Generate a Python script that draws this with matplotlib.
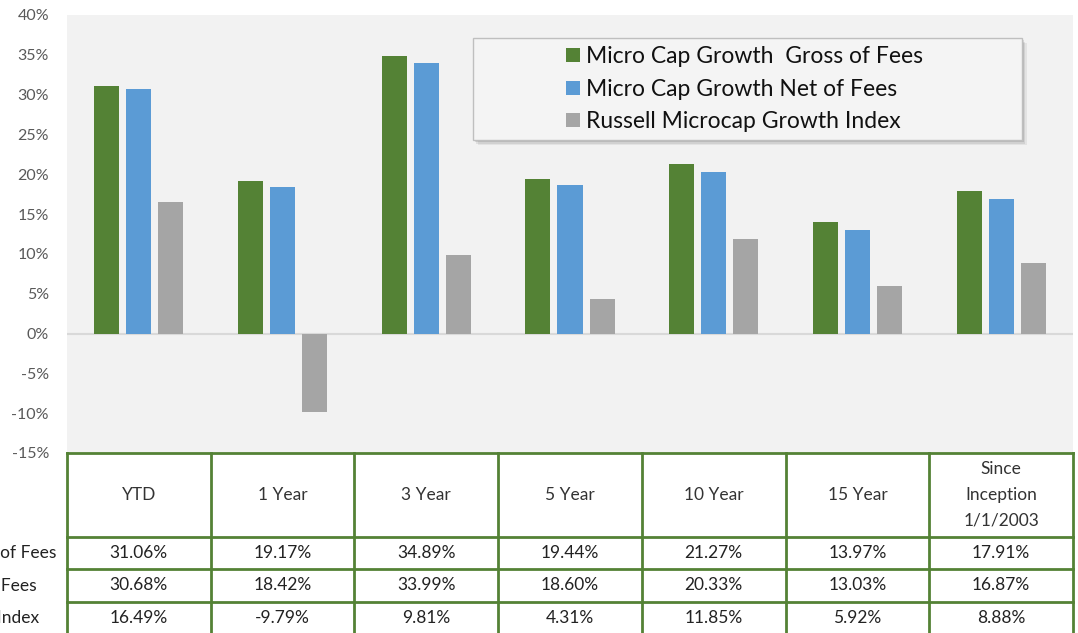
import numpy as np
import matplotlib
matplotlib.use('Agg')
from matplotlib import pyplot as plt
from matplotlib.patches import Rectangle

plt.rcParams['font.family'] = ['Lato', 'DejaVu Sans']

periods = ['YTD', '1 Year', '3 Year', '5 Year', '10 Year', '15 Year', 'Since\nInception\n1/1/2003']
series_names = ['Micro Cap Growth  Gross of Fees', 'Micro Cap Growth Net of Fees',
                'Russell Microcap Growth Index']
gross = [31.06, 19.17, 34.89, 19.44, 21.27, 13.97, 17.91]
net = [30.68, 18.42, 33.99, 18.60, 20.33, 13.03, 16.87]
index = [16.49, -9.79, 9.81, 4.31, 11.85, 5.92, 8.88]
colors = ['#548235', '#5b9bd5', '#a5a5a5']
yticks = [-15, -10, -5, 0, 5, 10, 15, 20, 25, 30, 35, 40]

W, H = 1078, 633
fig = plt.figure(figsize=(W / 100, H / 100), dpi=100)
fig.patch.set_facecolor('white')

# chart area (pixel coords from the reference)
ax = fig.add_axes([67 / W, (H - 453) / H, (1073 - 67) / W, 438 / H])
ax.set_facecolor('#f2f2f2')
x = np.arange(len(periods))
bw = 0.174
step = 0.223
for k, vals in enumerate([gross, net, index]):
    ax.bar(x + (k - 1) * step, vals, bw, color=colors[k], label=series_names[k], zorder=3)
ax.axhline(0, color='#d9d9d9', lw=1.5, zorder=2)
ax.set_xlim(-0.5, len(periods) - 0.5)
ax.set_ylim(-15, 40)
ax.set_yticks(yticks)
ax.set_yticklabels([f'{t}%' for t in yticks])
ax.tick_params(axis='y', length=0, pad=13, labelsize=11.5, labelcolor='#595959')
ax.set_xticks([])
for s in ax.spines.values():
    s.set_visible(False)

# legend box with a soft shadow
lx0, lx1 = (473 - 67) / 1006, (1022 - 67) / 1006
ly0, ly1 = (453 - 140) / 438, (453 - 38) / 438
for i, a in enumerate([0.10, 0.08, 0.06]):
    ax.add_patch(Rectangle((lx0 + (i + 1) * 0.0015, ly0 - (i + 1) * 0.004), lx1 - lx0, ly1 - ly0,
                           transform=ax.transAxes, facecolor='black', alpha=a, lw=0, zorder=4))
ax.add_patch(Rectangle((lx0, ly0), lx1 - lx0, ly1 - ly0, transform=ax.transAxes,
                       facecolor='#f4f4f4', edgecolor='#bfbfbf', lw=1, zorder=5))
leg = ax.legend(loc='upper left', bbox_to_anchor=((555 - 67) / 1006, (453 - 35) / 438),
                frameon=False, fontsize=16.5, handlelength=0.57, handleheight=0.57,
                handletextpad=0.3, labelspacing=0.5, borderpad=0)
leg.set_zorder(6)
for t in leg.get_texts():
    t.set_color('#111111')

# data table below the chart
tb = fig.add_axes([67 / W, 0, (1073 - 67) / W, 180 / H])
tb.set_xlim(-0.5, len(periods) - 0.5)
tb.set_ylim(0, 180)
tb.axis('off')
green = '#548235'
row_tops = [180, 96, 64, 31]
for yy in row_tops:
    tb.plot([-0.5, len(periods) - 0.5], [yy, yy], color=green, lw=2, clip_on=False)
for xx in np.arange(len(periods) + 1) - 0.5:
    tb.plot([xx, xx], [-5, 180], color=green, lw=2, clip_on=False)
for i, p in enumerate(periods):
    tb.text(i, 138, p, ha='center', va='center', fontsize=12.5, color='#333333',
            linespacing=1.75)

# row labels are left aligned and run off the left edge of the picture
renderer = fig.canvas.get_renderer()
probe = fig.text(0, 0, series_names[0], fontsize=12.5)
w0 = probe.get_window_extent(renderer).width
probe.remove()
left = 56 - w0
for r, vals in enumerate([gross, net, index]):
    yc = (row_tops[r + 1] + (row_tops[r + 2] if r + 2 < len(row_tops) else -1)) / 2
    for i, v in enumerate(vals):
        tb.text(i, yc, f'{v:.2f}%', ha='center', va='center', fontsize=12.5, color='#222222')
    fig.text(left / W, yc / H, series_names[r], ha='left', va='center', fontsize=12.5,
             color='#222222')

fig.savefig('out.png', dpi=100)
